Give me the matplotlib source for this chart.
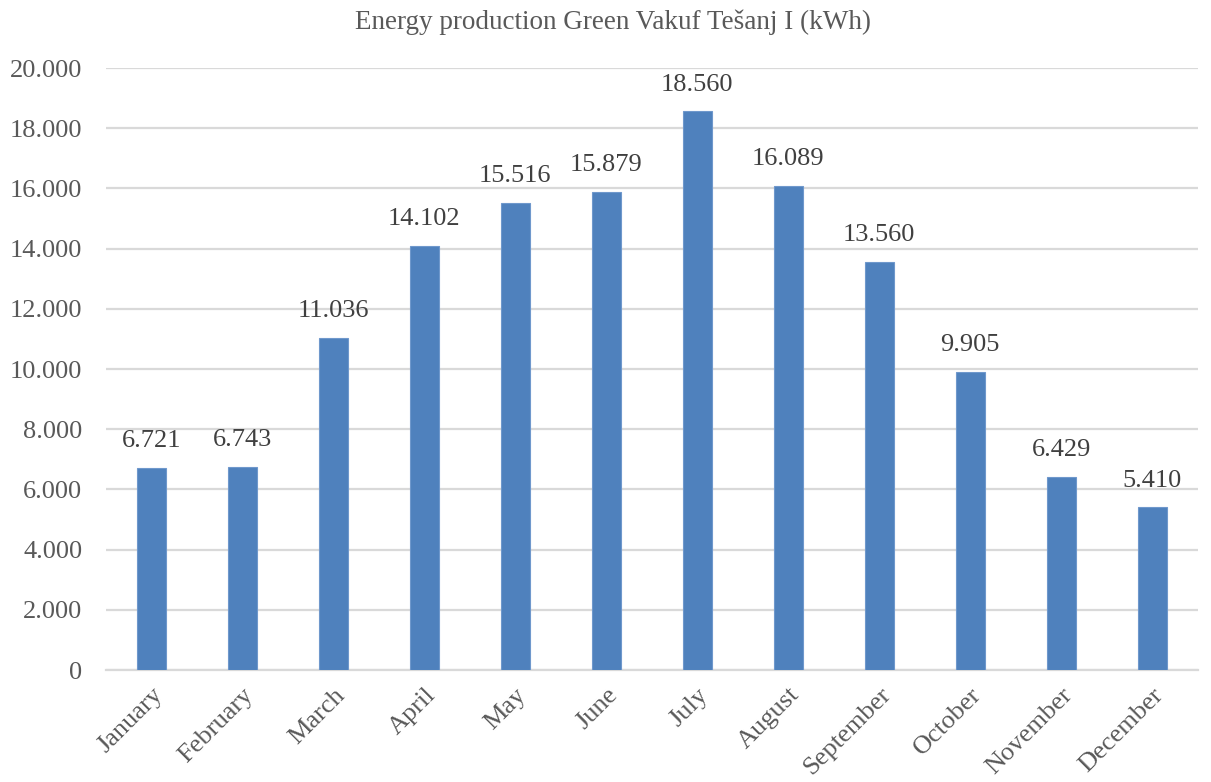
import matplotlib
matplotlib.use("Agg")
import matplotlib.pyplot as plt
from matplotlib.ticker import FuncFormatter

months = ["January", "February", "March", "April", "May", "June", "July",
          "August", "September", "October", "November", "December"]
production_kwh = [6721, 6743, 11036, 14102, 15516, 15879, 18560,
                  16089, 13560, 9905, 6429, 5410]
title = "Energy production Green Vakuf Tešanj I (kWh)"

text_color = "#595959"
grid_color = "#d9d9d9"
bar_color = "#4f81bd"

plt.rcParams["font.family"] = ["Liberation Serif", "DejaVu Serif"]

fig = plt.figure(figsize=(12.11, 7.82), dpi=100)
ax = fig.add_axes([0.0875, 0.1432, 0.9015, 0.7698])

x = range(len(months))
ax.bar(x, production_kwh, width=0.32, color=bar_color, edgecolor="#6f98cc",
       linewidth=0.8, zorder=3)

def thousands(v):
    return f"{int(round(v)):,}".replace(",", ".")

for xi, v in zip(x, production_kwh):
    ax.text(xi, v + 520, thousands(v), ha="center", va="bottom",
            fontsize=19, color="#404040")

ax.set_xlim(-0.5, len(months) - 0.5)
ax.set_ylim(0, 20000)
ax.set_yticks(range(0, 20001, 2000))
ax.yaxis.set_major_formatter(FuncFormatter(lambda v, p: thousands(v)))
ax.set_xticks(list(x))
ax.set_xticklabels(months, rotation=45, ha="right", rotation_mode="anchor")

ax.tick_params(axis="both", length=0, labelsize=19, labelcolor=text_color)
ax.tick_params(axis="y", pad=17)
ax.tick_params(axis="x", pad=10)
ax.yaxis.grid(True, color=grid_color, linewidth=1.6, zorder=0)
ax.set_axisbelow(True)
for side in ["top", "right", "left"]:
    ax.spines[side].set_visible(False)
ax.spines["bottom"].set_color(grid_color)
ax.spines["bottom"].set_linewidth(1.6)

fig.text(0.506, 0.972, title, ha="center", va="center", fontsize=19.5,
         color=text_color)

fig.savefig("out.png", dpi=100)
